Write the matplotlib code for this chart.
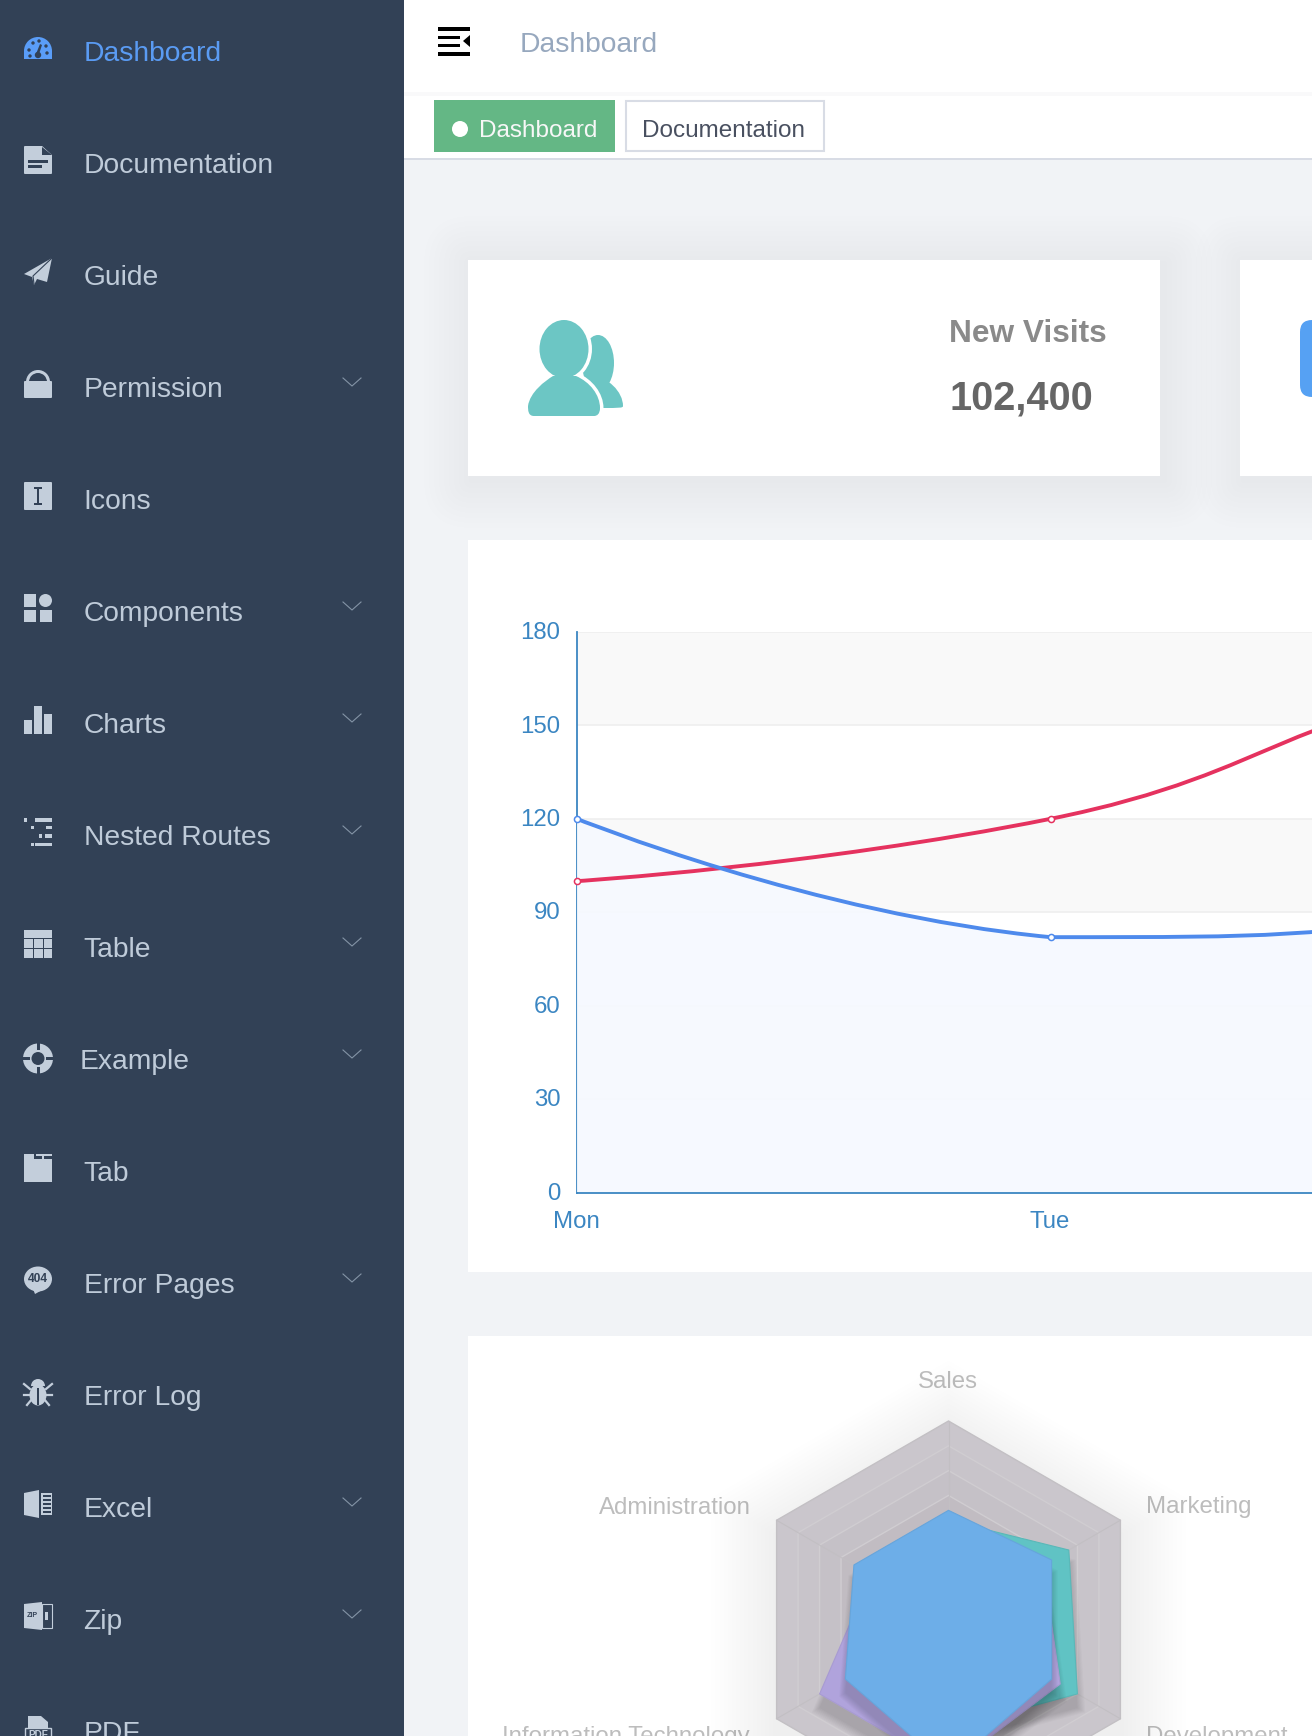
import matplotlib
matplotlib.use('Agg')
import matplotlib.pyplot as plt
import numpy as np
from matplotlib.patches import Rectangle, Circle, Ellipse, Polygon, Wedge, FancyBboxPatch, PathPatch
from matplotlib.path import Path
from matplotlib.transforms import Affine2D

plt.rcParams['font.family'] = ['Liberation Sans', 'DejaVu Sans']

# line chart data
weekdays = ['Mon', 'Tue', 'Wed', 'Thu']
expected = [100, 120, 161, 134]
actual = [120, 82, 91, 154]
y_ticks = [0, 30, 60, 90, 120, 150, 180]

# radar data, counter clockwise from the top
radar_labels = ['Sales', 'Administration', 'Information Technology', 'Customer Support', 'Development', 'Marketing']
radar_max = [10000, 20000, 20000, 20000, 20000, 20000]
allocated = [5000, 7000, 12000, 11000, 15000, 14000]
spending = [4000, 9000, 15000, 15000, 13000, 11000]
actual_spending = [5500, 11000, 12000, 15000, 12000, 12000]

# sidebar
menu_items = ['Dashboard', 'Documentation', 'Guide', 'Permission', 'Icons', 'Components', 'Charts',
              'Nested Routes', 'Table', 'Example', 'Tab', 'Error Pages', 'Error Log', 'Excel', 'Zip', 'PDF']
menu_arrows = ['Permission', 'Components', 'Charts', 'Nested Routes', 'Table', 'Example', 'Error Pages', 'Excel', 'Zip']

W, H = 1312, 1736
PX = 0.72  # font px -> pt at dpi 100
SIDE = '#324156'
MENU = '#bfcbd9'
ACTIVE = '#5a9bf3'

fig = plt.figure(figsize=(W / 100, H / 100), dpi=100, facecolor='#f1f3f6')
ui = fig.add_axes([0, 0, 1, 1], zorder=0)
ui.set_xlim(0, W)
ui.set_ylim(H, 0)
ui.axis('off')


def box(x0, y0, x1, y1, color, **kw):
    ui.add_patch(Rectangle((x0, y0), x1 - x0, y1 - y0, facecolor=color, edgecolor='none', **kw))


def label(x, y, s, size, color, ha='left', weight='normal'):
    ui.text(x, y, s, fontsize=size * PX, color=color, ha=ha, va='center_baseline', fontweight=weight)


def card_shadow(x0, y0, x1, y1):
    for s in range(3, 53, 5):
        ui.add_patch(FancyBboxPatch((x0 + 4, y0 + 4), x1 - x0, y1 - y0, boxstyle=f'round,pad={s},rounding_size={s}',
                                    facecolor='black', edgecolor='none', alpha=0.0042))


# page chrome
box(404, 0, W, 92, 'white')
box(404, 92, W, 96, '#f9f9fa')
box(404, 96, W, 158, 'white')
box(404, 158, W, 160, '#d8dce5')
box(438, 27, 470, 30.5, 'black')
box(438, 35.5, 460, 38.5, 'black')
box(438, 44, 460, 47, 'black')
box(438, 52, 470, 55.5, 'black')
ui.add_patch(Polygon([(470, 35), (470, 47), (463, 41)], facecolor='black', edgecolor='none'))
label(520, 42, 'Dashboard', 28.3, '#97a8be')

box(434, 100, 615, 152, '#64b785')
ui.add_patch(Circle((460, 129), 8, facecolor='white', edgecolor='none'))
label(479, 128.5, 'Dashboard', 24.2, '#f7f7f7')
ui.add_patch(Rectangle((626, 101), 198, 50, facecolor='white', edgecolor='#d8dce5', linewidth=1.5))
label(642.5, 128.5, 'Documentation', 24.3, '#495060')

# stat cards
card_shadow(468, 260, 1160, 476)
card_shadow(1240, 260, 1400, 476)
box(468, 260, 1160, 476, 'white')
box(1240, 260, W, 476, 'white')
box(468, 540, W, 1272, 'white')
box(468, 1336, W, H, 'white')

TEAL = '#6cc6c4'
back_body = Path([(590, 376), (608, 376), (623, 392), (623, 406), (623, 408), (620, 408), (600, 408), (590, 376)],
                 [1, 4, 4, 4, 4, 4, 2, 2])
front_body = Path([(534, 416), (528, 416), (528, 410), (528, 406), (530, 392), (545, 381), (553, 376), (576, 376),
                   (590, 382), (600, 395), (600, 408), (600, 414), (597, 416), (594, 416), (534, 416)],
                  [1, 4, 4, 4, 4, 4, 4, 2, 4, 4, 4, 4, 4, 4, 2])
ui.add_patch(Ellipse((598, 363), 32, 56, facecolor=TEAL, edgecolor='none'))
ui.add_patch(PathPatch(back_body, facecolor=TEAL, edgecolor='none'))
ui.add_patch(Ellipse((564, 349), 49, 58, facecolor='white', edgecolor='white', linewidth=5))
ui.add_patch(PathPatch(front_body, facecolor='white', edgecolor='white', linewidth=5))
ui.add_patch(Ellipse((564, 349), 49, 58, facecolor=TEAL, edgecolor='none'))
ui.add_patch(PathPatch(front_body, facecolor=TEAL, edgecolor='none'))
label(949, 331, 'New Visits', 31.6, '#8a8a8a', weight='bold')
label(950, 394, '102,400', 39.8, '#666666', weight='bold')
ui.add_patch(FancyBboxPatch((1312, 332), 30, 53, boxstyle='round,pad=12', facecolor='#56a1f3', edgecolor='none'))

# sidebar
box(0, 0, 404, H, SIDE)


def draw_icon(name, ox, oy, c):
    def r(x, y, w, h, col=c):
        ui.add_patch(Rectangle((ox + x, oy + y), w, h, facecolor=col, edgecolor='none'))

    def poly(pts, col=c):
        ui.add_patch(Polygon([(ox + a, oy + b) for a, b in pts], facecolor=col, edgecolor='none'))

    def circ(x, y, rad, col=c):
        ui.add_patch(Circle((ox + x, oy + y), rad, facecolor=col, edgecolor='none'))

    def ell(x, y, w, h, col=c):
        ui.add_patch(Ellipse((ox + x, oy + y), w, h, facecolor=col, edgecolor='none'))

    def small(x, y, s, size, col=SIDE):
        ui.text(ox + x, oy + y, s, fontsize=size * PX, color=col, ha='center', va='center', fontweight='bold')

    if name == 'Dashboard':
        ui.add_patch(Wedge((ox + 14, oy + 17), 14, 180, 360, facecolor=c, edgecolor='none'))
        r(0, 17, 28, 8)
        for a, b in [(5, 16), (9, 9), (15, 7), (22, 12), (23, 19), (6, 22)]:
            circ(a, b, 1.7, SIDE)
        poly([(16, 10), (18, 11), (15, 20), (12, 20)], SIDE)
        circ(14, 21, 3.2, SIDE)
    elif name == 'Documentation':
        ui.add_patch(FancyBboxPatch((ox + 1, oy + 1), 26, 26, boxstyle='round,pad=1', facecolor=c, edgecolor='none'))
        poly([(17, -1), (29, -1), (29, 9), (28, 9)], SIDE)
        poly([(18, 1), (28, 9), (18, 9)], SIDE)
        r(4, 14, 20, 3, SIDE)
        r(4, 19, 14, 3, SIDE)
    elif name == 'Guide':
        poly([(28, 0), (0, 16), (8, 19), (10, 27), (13, 21), (23, 24)])
        ui.plot([ox + 28, ox + 9, ox + 10], [oy + 0, oy + 18, oy + 26], color=SIDE, lw=0.8)
    elif name == 'Permission':
        ui.add_patch(Wedge((ox + 14, oy + 12), 12, 180, 360, width=3, facecolor=c, edgecolor='none'))
        ui.add_patch(FancyBboxPatch((ox + 1, oy + 12), 26, 15, boxstyle='round,pad=1', facecolor=c, edgecolor='none'))
    elif name == 'Icons':
        ui.add_patch(FancyBboxPatch((ox + 1, oy + 1), 26, 26, boxstyle='round,pad=1', facecolor=c, edgecolor='none'))
        r(10, 5, 8, 2, SIDE)
        r(10, 21, 8, 2, SIDE)
        r(12.8, 5, 2.4, 18, SIDE)
    elif name == 'Components':
        r(0, 0, 12, 13)
        circ(21.5, 6.5, 6.5)
        r(0, 16, 12, 12)
        r(16, 16, 12, 12)
    elif name == 'Charts':
        r(0, 14, 8, 14)
        r(10, 0, 8, 28)
        r(20, 8, 8, 20)
    elif name == 'Nested Routes':
        for dot, line, y in [(0, 11, 0), (7, 22, 7.5), (15, 21, 16), (7, 11, 24.5)]:
            r(dot, y, 3, 3.5)
            r(line, y, 28 - line, 3.5)
    elif name == 'Table':
        r(0, 0, 28, 28)
        r(0, 8, 28, 1, SIDE)
        r(0, 18, 28, 1, SIDE)
        r(9, 8, 1, 20, SIDE)
        r(19, 8, 1, 20, SIDE)
    elif name == 'Example':
        circ(14, 16.5, 15)
        circ(14, 16.5, 6.5, SIDE)
        r(12.5, 0, 3, 8, SIDE)
        r(12.5, 25, 3, 8, SIDE)
        r(-2, 15, 8, 3, SIDE)
        r(22, 15, 8, 3, SIDE)
    elif name == 'Tab':
        r(0, 0, 28, 28)
        r(0, 2, 10, 2.5, c)
        r(10, 0, 1.5, 4.5, SIDE)
        r(11.5, 2, 6, 2.5, SIDE)
        r(20, 2, 8, 2.5, SIDE)
    elif name == 'Error Pages':
        ell(14, 13, 28, 25)
        poly([(9, 23), (20, 23), (11, 28)])
        small(14, 13, '404', 12)
    elif name == 'Error Log':
        ui.add_patch(Wedge((ox + 14, oy + 8), 7, 180, 360, facecolor=c, edgecolor='none'))
        ell(14, 17, 17, 21)
        r(13, 10, 2, 17, SIDE)
        for xs, ys in [([0, 6], [6, 11]), ([28, 22], [6, 11]), ([0, 7], [17, 17]), ([28, 21], [17, 17]),
                       ([3, 8], [27, 21]), ([25, 20], [27, 21])]:
            ui.plot(np.array(xs) + ox, np.array(ys) + oy, color=c, lw=1.6)
    elif name == 'Excel':
        poly([(0, 3), (15, 0), (15, 28), (0, 25)])
        r(17, 3, 11, 22)
        for k in range(5):
            r(18.5, 5 + k * 4, 8, 1.6, SIDE)
    elif name == 'Zip':
        poly([(0, 2), (18, 0), (18, 28), (0, 26)])
        small(8.5, 13.5, 'ZIP', 7)
        ui.add_patch(Rectangle((ox + 18, oy + 2), 9.5, 24, facecolor='none', edgecolor=c, linewidth=0.8))
        r(21, 10, 3, 8)
    elif name == 'PDF':
        poly([(4, 2), (17, 2), (24, 8), (24, 14), (4, 14)])
        ui.add_patch(Rectangle((ox + 1, oy + 14), 26, 14, facecolor=SIDE, edgecolor=c, linewidth=1))
        small(14, 21, 'PDF', 10, c)


for i, name in enumerate(menu_items):
    row = 51 + 112 * i
    col = ACTIVE if i == 0 else MENU
    x = 84
    if name == 'Example':
        x = 80
    elif name in ['Table', 'Tab', 'Zip', 'Icons']:
        x = 83
    label(x, row, name, 28.3, col)
    draw_icon(name, 24, row - 17, '#5a9df8' if i == 0 else '#c3cedb')
    if name in menu_arrows:
        ui.plot([343, 352, 361], [row - 9, row - 1, row - 9], color='#8494a6', lw=0.8)

# line chart, one category every 473.5 px
TICK = '#3b86c2'
ax = fig.add_axes([577 / W, (H - 1192.5) / H, (W - 577) / W, 560.5 / H], zorder=1)
ax.patch.set_alpha(0)
ax.set_xlim(0, (W - 577) / 473.5)
ax.set_ylim(0, 180)
ax.set_autoscale_on(False)
for low in [150, 90, 30]:
    ax.axhspan(low, low + 30, facecolor='#f9f9f9', edgecolor='none', zorder=0)
ax.hlines(y_ticks[1:], 0, 4, color='#eeeeee', lw=1.1, zorder=0.5)
for side in ['top', 'right']:
    ax.spines[side].set_visible(False)
ax.spines['left'].set_color(TICK)
ax.spines['left'].set_linewidth(1.3)
ax.spines['left'].set_zorder(1)
ax.spines['bottom'].set_color(TICK)
ax.spines['bottom'].set_linewidth(1.3)
ax.set_yticks(y_ticks)
ax.set_xticks(range(len(weekdays)))
ax.set_xticklabels(weekdays)
ax.set_xlim(0, (W - 577) / 473.5)
ax.tick_params(axis='both', length=0, labelsize=24 * PX, labelcolor=TICK)
ax.tick_params(axis='y', pad=12)
ax.tick_params(axis='x', pad=13)
for t in ax.get_yticklabels():
    t.set_transform(t.get_transform() + Affine2D().translate(0, 1.3))
for t in ax.get_xticklabels():
    t.set_transform(t.get_transform() + Affine2D().translate(-1, 0))


def smooth_path(values, close=False):
    # bezier through the values, control points kept inside the value range
    lo, hi = min(values), max(values)
    verts = [(0, values[0])]
    codes = [Path.MOVETO]
    for i in range(1, len(values)):
        after = values[min(i + 1, len(values) - 1)] - values[i - 1]
        before = values[i] - values[max(i - 2, 0)]
        c1 = values[i - 1] if i == 1 else float(np.clip(values[i - 1] + 0.25 * before, lo, hi))
        c2 = values[i] if i == len(values) - 1 else float(np.clip(values[i] - 0.25 * after, lo, hi))
        c1x = i - 1 if i == 1 else i - 0.5
        c2x = i if i == len(values) - 1 else i - 0.5
        verts += [(c1x, c1), (c2x, c2), (i, values[i])]
        codes += [Path.CURVE4] * 3
    if close:
        verts += [(len(values) - 1, 0), (0, 0), (0, values[0])]
        codes += [Path.LINETO] * 3
    return Path(verts, codes)


ax.add_patch(PathPatch(smooth_path(actual, close=True), facecolor='#f6f9ff', edgecolor='none', alpha=0.93, zorder=2))
ax.add_patch(PathPatch(smooth_path(expected), facecolor='none', edgecolor='#e5325f', lw=2.8, zorder=3))
ax.add_patch(PathPatch(smooth_path(actual), facecolor='none', edgecolor='#4e8aec', lw=2.8, zorder=4))
ax.plot(range(len(expected)), expected, ls='none', marker='o', ms=4.4, mfc='white', mec='#e5325f', mew=1.1, zorder=5, clip_on=False)
ax.plot(range(len(actual)), actual, ls='none', marker='o', ms=4.4, mfc='white', mec='#4e8aec', mew=1.1, zorder=5, clip_on=False)

# radar chart
R = 198.5
rad = fig.add_axes([(948.5 - R) / W, (H - 1619.5 - R) / H, 2 * R / W, 2 * R / H], projection='polar', zorder=1)
rad.set_theta_zero_location('N')
rad.set_theta_direction(1)
rad.set_ylim(0, 1)
rad.axis('off')
angles = np.linspace(0, 2 * np.pi, 7)


def offset(dy):
    return Affine2D().translate(0, dy)


for s in np.linspace(1.02, 1.38, 16):
    rad.fill(angles, np.full(7, s), color='black', alpha=0.0055, lw=0, clip_on=False, transform=rad.transData + offset(-15))
for s, col, edge in zip([1, 0.875, 0.75, 0.625], ['#cac6cc', '#c8c4ca', '#c5c1c7', '#c1bcc2'],
                        ['#c3c0c4', '#d0cdd1', '#d0cdd1', '#d0cdd1']):
    rad.fill(angles, np.full(7, s), facecolor=col, edgecolor=edge, lw=1, clip_on=False, zorder=1)
for th in angles[:-1]:
    rad.plot([th, th], [0, 1], color='#c2bfc3', lw=0.8, clip_on=False, zorder=1.2)

for vals, col, edge in zip([allocated, spending, actual_spending], ['#60c3c4', '#b0a3dc', '#6daee8'],
                           ['#5ab8b8', '#a89bd2', '#66a5dc']):
    frac = np.array(vals) / np.array(radar_max)
    frac = np.append(frac, frac[0])
    for s in np.linspace(1.0, 1.06, 8):
        rad.fill(angles, frac * s, color='black', alpha=0.02, lw=0, clip_on=False, zorder=2,
                 transform=rad.transData + offset(-14))
    rad.fill(angles, frac, facecolor=col, edgecolor=edge, lw=0.8, clip_on=False, zorder=2)

GREY = '#bdbdbd'
label(947.5, 1380, radar_labels[0], 24, GREY, ha='center')
label(750.5, 1506, radar_labels[1], 24, GREY, ha='right')
label(749.5, 1734, radar_labels[2], 24, GREY, ha='right')
label(1146, 1734, radar_labels[4], 24, GREY)
label(1146, 1505, radar_labels[5], 24, GREY)

fig.savefig('out.png', dpi=100, facecolor=fig.get_facecolor())
